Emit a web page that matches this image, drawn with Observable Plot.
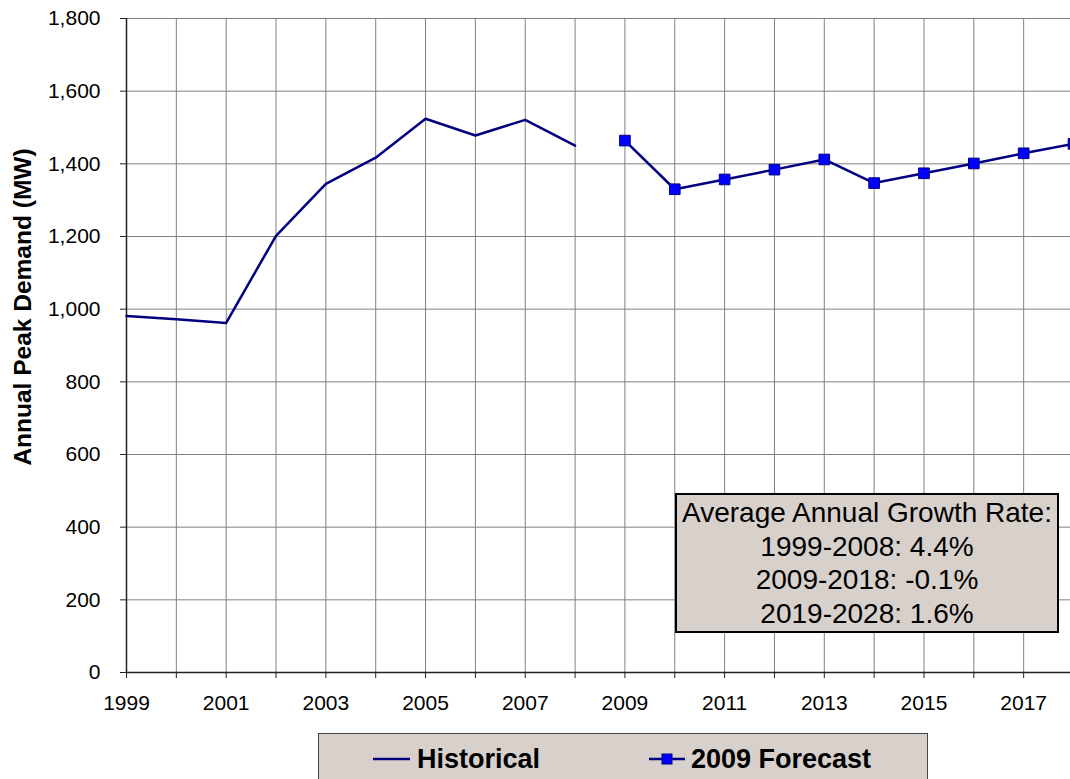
<!DOCTYPE html>
<html>
<head>
<meta charset="utf-8">
<script src="https://cdn.jsdelivr.net/npm/d3@7"></script>
<script src="https://cdn.jsdelivr.net/npm/@observablehq/plot@0.6"></script>
<style>
  html, body { margin: 0; padding: 0; background: white; overflow: hidden; }
  #wrap { position: relative; width: 1070px; height: 779px; overflow: hidden; font-family: "Liberation Sans", Arial, sans-serif; }
  #ylabel { position: absolute; left: 23px; top: 307px; transform: translate(-50%, -50%) rotate(-90deg); font-weight: bold; font-size: 24.5px; white-space: nowrap; color: #000; }
  #note { position: absolute; left: 675px; top: 493px; width: 380px; height: 136px; background: #d8d0cb; border: 2px solid #000; display: flex; flex-direction: column; justify-content: center; align-items: center; font-size: 28px; line-height: 33.5px; color: #000; }
  #legend { position: absolute; left: 318px; top: 733px; width: 608px; height: 60px; background: #d8d0cb; border: 1px solid #444; }
  .lg { position: absolute; top: 10px; height: 30px; line-height: 30px; font-weight: bold; font-size: 27px; color: #000; white-space: nowrap; }
  .sym { position: absolute; top: 10px; }
</style>
</head>
<body>
<div id="wrap">
  <div id="chart"></div>
  <div id="ylabel">Annual Peak Demand (MW)</div>
  <div id="note"></div>
  <div id="legend"></div>
</div>
<script>
// ---- data ----
const histYears = [1999, 2000, 2001, 2002, 2003, 2004, 2005, 2006, 2007, 2008];
const histValues = [981, 972, 962, 1202, 1345, 1417, 1524, 1478, 1521, 1450];
const fcYears = [2009, 2010, 2011, 2012, 2013, 2014, 2015, 2016, 2017, 2018];
const fcValues = [1464, 1330, 1357, 1384, 1412, 1347, 1374, 1401, 1429, 1455];
const xTicks = [1999, 2000, 2001, 2002, 2003, 2004, 2005, 2006, 2007, 2008, 2009, 2010, 2011, 2012, 2013, 2014, 2015, 2016, 2017, 2018];
const yTicks = [0, 200, 400, 600, 800, 1000, 1200, 1400, 1600, 1800];
const seriesNames = ["Historical", "2009 Forecast"];
const noteLines = ["Average Annual Growth Rate:", "1999-2008: 4.4%", "2009-2018: -0.1%", "2019-2028: 1.6%"];

const hist = histYears.map((y, i) => ({year: y, value: histValues[i]}));
const fc = fcYears.map((y, i) => ({year: y, value: fcValues[i]}));

const chart = Plot.plot({
  width: 1073,
  height: 720,
  marginLeft: 126,
  marginRight: 0,
  marginTop: 18,
  marginBottom: 48,
  style: {fontFamily: "'Liberation Sans', Arial, sans-serif", fontSize: "21px", maxWidth: "none", background: "white", color: "#000"},
  x: {type: "linear", domain: [xTicks[0], xTicks[xTicks.length - 1]]},
  y: {domain: [yTicks[0], yTicks[yTicks.length - 1]]},
  marks: [
    Plot.ruleX(xTicks, {stroke: "#808080", strokeWidth: 1}),
    Plot.ruleY(yTicks, {stroke: "#808080", strokeWidth: 1}),
    Plot.axisX({ticks: xTicks, tickFormat: d => (d - xTicks[0]) % 2 === 0 ? String(d) : "", tickSize: 6, tickPadding: 17, label: null, stroke: "#222", fill: "#000", fontSize: 21}),
    Plot.axisY({ticks: yTicks, tickFormat: d3.format(","), tickSize: 6, tickPadding: 20, label: null, stroke: "#222", fill: "#000", fontSize: 21}),
    Plot.ruleX([xTicks[0]], {stroke: "#222", strokeWidth: 1.5}),
    Plot.ruleY([yTicks[0]], {stroke: "#222", strokeWidth: 1.5}),
    Plot.line(hist, {x: "year", y: "value", stroke: "#000080", strokeWidth: 2.5}),
    Plot.line(fc, {x: "year", y: "value", stroke: "#000080", strokeWidth: 2.5}),
    Plot.dot(fc, {x: "year", y: "value", symbol: "square", r: 6, fill: "#0000ff", stroke: "#000080", strokeWidth: 1})
  ]
});
document.getElementById("chart").appendChild(chart);

// annotation box
const note = document.getElementById("note");
noteLines.forEach(t => { const d = document.createElement("div"); d.textContent = t; note.appendChild(d); });

// legend
const legend = document.getElementById("legend");
legend.innerHTML = `
  <svg class="sym" style="left:54px" width="38" height="30"><line x1="0" x2="37" y1="15" y2="15" stroke="#000080" stroke-width="2.5"/></svg>
  <div class="lg" style="left:98px">${seriesNames[0]}</div>
  <svg class="sym" style="left:330px" width="38" height="30"><line x1="0" x2="36" y1="15" y2="15" stroke="#000080" stroke-width="2.5"/><rect x="13" y="10" width="10" height="10" fill="#0000ff" stroke="#000080" stroke-width="1"/></svg>
  <div class="lg" style="left:372px">${seriesNames[1]}</div>`;
</script>
</body>
</html>
